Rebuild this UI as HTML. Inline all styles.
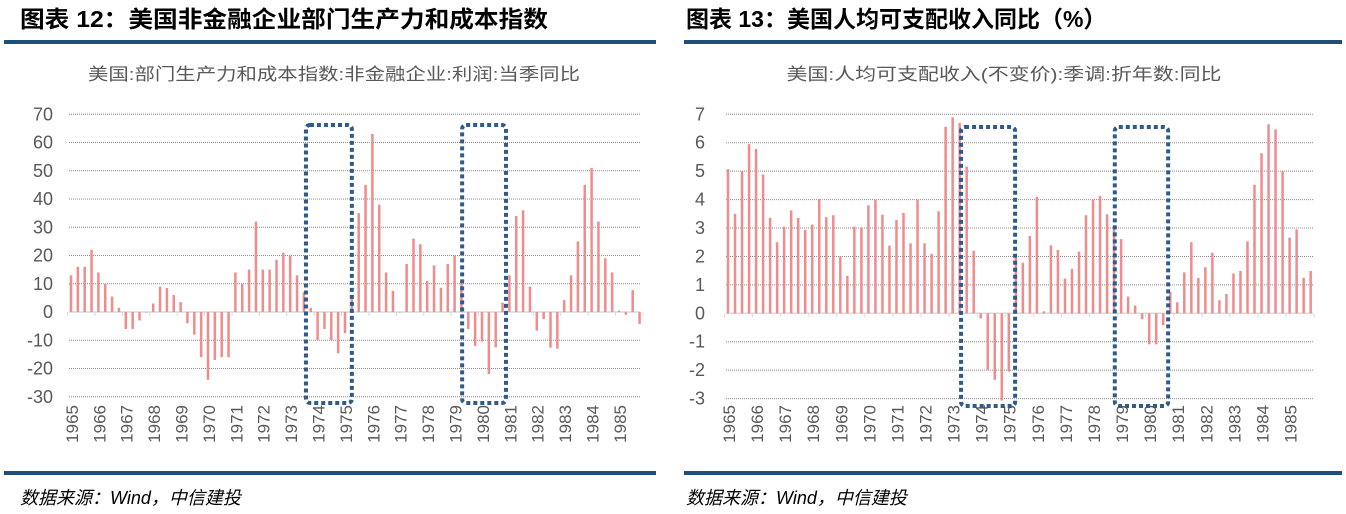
<!DOCTYPE html>
<html><head><meta charset="utf-8">
<style>
body{margin:0;background:#fff;width:1346px;height:514px;overflow:hidden;font-family:"Liberation Sans","Noto Sans CJK SC",sans-serif;}
svg{display:block}
</style></head>
<body>
<svg id="root" width="1346" height="514" viewBox="0 0 1346 514" xmlns="http://www.w3.org/2000/svg">
  <g>
    <text x="20" y="27" font-size="23" font-weight="bold" fill="#000" font-family="'Liberation Sans','Noto Sans CJK SC',sans-serif" textLength="528" lengthAdjust="spacingAndGlyphs">图表 12：美国非金融企业部门生产力和成本指数</text>
    <rect x="4" y="40" width="652" height="4" fill="#1f4e79"/>
    <text x="334" y="80" font-size="17" fill="#595959" text-anchor="middle" textLength="492" lengthAdjust="spacingAndGlyphs" font-family="'Liberation Sans','Noto Sans CJK SC',sans-serif">美国:部门生产力和成本指数:非金融企业:利润:当季同比</text>
  </g>
  <g>
    <text x="686" y="27" font-size="23" font-weight="bold" fill="#000" font-family="'Liberation Sans','Noto Sans CJK SC',sans-serif">图表 13：美国人均可支配收入同比（%）</text>
    <rect x="684" y="40" width="658" height="4" fill="#1f4e79"/>
    <text x="1004" y="80" font-size="17" fill="#595959" text-anchor="middle" textLength="435" lengthAdjust="spacingAndGlyphs" font-family="'Liberation Sans','Noto Sans CJK SC',sans-serif">美国:人均可支配收入(不变价):季调:折年数:同比</text>
  </g>
  <g id="left-chart"></g>
  <g id="right-chart"></g>
  <rect x="4" y="471" width="652" height="4" fill="#1f4e79"/>
  <rect x="684" y="471" width="658" height="4" fill="#1f4e79"/>
  <text x="20" y="504" font-size="18" font-style="italic" fill="#000" font-family="'Liberation Sans','Noto Sans CJK SC',sans-serif">数据来源：Wind，中信建投</text>
  <text x="686" y="504" font-size="18" font-style="italic" fill="#000" font-family="'Liberation Sans','Noto Sans CJK SC',sans-serif">数据来源：Wind，中信建投</text>
</svg>
<script>
const years = ["1965","1966","1967","1968","1969","1970","1971","1972","1973","1974","1975","1976","1977","1978","1979","1980","1981","1982","1983","1984","1985"];
const leftTicks = [70,60,50,40,30,20,10,0,-10,-20,-30];
const rightTicks = [7,6,5,4,3,2,1,0,-1,-2,-3];
const profitYoY = [13,16,16,22, 14,10,5.5,1.5, -6,-6,-3,0, 3,9,8.5,6, 3.5,-4,-8,-16, -24,-17,-16,-16,
  14,10,15,32, 15,15,18.5,21, 20,13,7,1.5, -10,-6,-10,-14.6, -7.5,4.7,35,45, 63,38,14,7.5,
  0,17,26,24, 11,16.5,8.6,17, 20,10,-6,-12, -10.5,-22,-12.5,3.3, 13,34,36,9,
  -6.6,-2.5,-12.6,-13, 4.2,13,25,45, 51,32,19,14, 0.5,-1,7.7,-4.2];
const incomeYoY = [5.07,3.5,5.0,5.95, 5.78,4.88,3.36,2.5, 3.05,3.62,3.36,2.93, 3.12,4.02,3.38,3.45,
  2.0,1.32,3.05,3.02, 3.8,4.0,3.47,2.38, 3.28,3.53,2.46,4.0, 2.46,2.09,3.59,6.56,
  6.89,6.7,5.16,2.2, -0.18,-2.0,-2.34,-3.07, -2.05,2.0,1.78,2.72, 4.1,0.07,2.39,2.23,
  1.22,1.56,2.17,3.45, 4.0,4.13,3.48,3.0, 2.61,0.59,0.27,-0.21, -1.09,-1.09,-0.42,0.76,
  0.39,1.44,2.5,1.24, 1.62,2.13,0.46,0.68, 1.4,1.49,2.53,4.52, 5.63,6.65,6.47,5.0,
  2.66,2.95,1.25,1.49];
// highlight ranges in quarter-index units from 1965Q1
const leftBoxes = [[34.3,41.0],[57.1,63.5]];
const rightBoxes = [[33.2,40.9],[55.1,62.7]];

const NS="http://www.w3.org/2000/svg";
function mk(tag,attrs,parent){const e=document.createElementNS(NS,tag);for(const k in attrs)e.setAttribute(k,attrs[k]);parent.appendChild(e);return e;}

function drawChart(g, cfg, values, ticks, boxes){
  const x0=cfg.x0, step=cfg.step;
  const y=v=>cfg.yZero-(v)*cfg.unit;
  const xb=i=>x0+i*step;
  ticks.forEach(t=>{
    const ln=mk('line',{x1:cfg.gx1,x2:cfg.gx2,y1:y(t),y2:y(t),stroke:t===0?'#d9d9d9':'#8c8c8c','stroke-width':t===0?1.5:1,'stroke-dasharray':t===0?'none':'1 1'},g);
    
    
    const tx=mk('text',{x:cfg.labelX,y:y(t)+6,'font-size':18,fill:'#595959','text-anchor':'end'},g);
    tx.textContent=String(t);
    
    
  });
  for(let k=0;k<=years.length;k++){
    const xt=xb(k*4)-step/2;
    const tk=mk('line',{x1:xt,x2:xt,y1:y(0),y2:y(0)+4,stroke:'#d9d9d9','stroke-width':1},g);
    
    
  }
  values.forEach((v,i)=>{
    const top=Math.min(y(v),y(0)), h=Math.abs(y(v)-y(0));
    const r=mk('rect',{x:xb(i)-1.25,y:top,width:2.5,height:Math.max(h,0.5),fill:'#f08c8c'},g);
    
    
  });
  years.forEach((yr,k)=>{
    const cx=xb(k*4)+1, cy=cfg.yearY;
    const t=mk('text',{x:cx,y:cy,'font-size':17,fill:'#595959','text-anchor':'end',transform:`rotate(-90 ${cx} ${cy})`,dy:'0.35em'},g);
    t.textContent=yr;
    
    
  });
  boxes.forEach(b=>{
    const xa=xb(b[0]), xe=xb(b[1]);
    const r=mk('rect',{x:xa,y:cfg.boxTop,width:xe-xa,height:cfg.boxBot-cfg.boxTop,rx:4,fill:'none',stroke:'#2f5b8c','stroke-width':4,'stroke-dasharray':'4 3'},g);
    
    
  });
}
drawChart(document.getElementById('left-chart'),
  {x0:71,step:6.85,yZero:312,unit:2.825,gx1:69,gx2:640,labelX:53,yearY:405,boxTop:125,boxBot:403},
  profitYoY,leftTicks,leftBoxes);
drawChart(document.getElementById('right-chart'),
  {x0:728,step:7.02,yZero:313.3,unit:28.43,gx1:726,gx2:1313,labelX:705,yearY:405,boxTop:127,boxBot:406},
  incomeYoY,rightTicks,rightBoxes);
</script>
</body></html>
